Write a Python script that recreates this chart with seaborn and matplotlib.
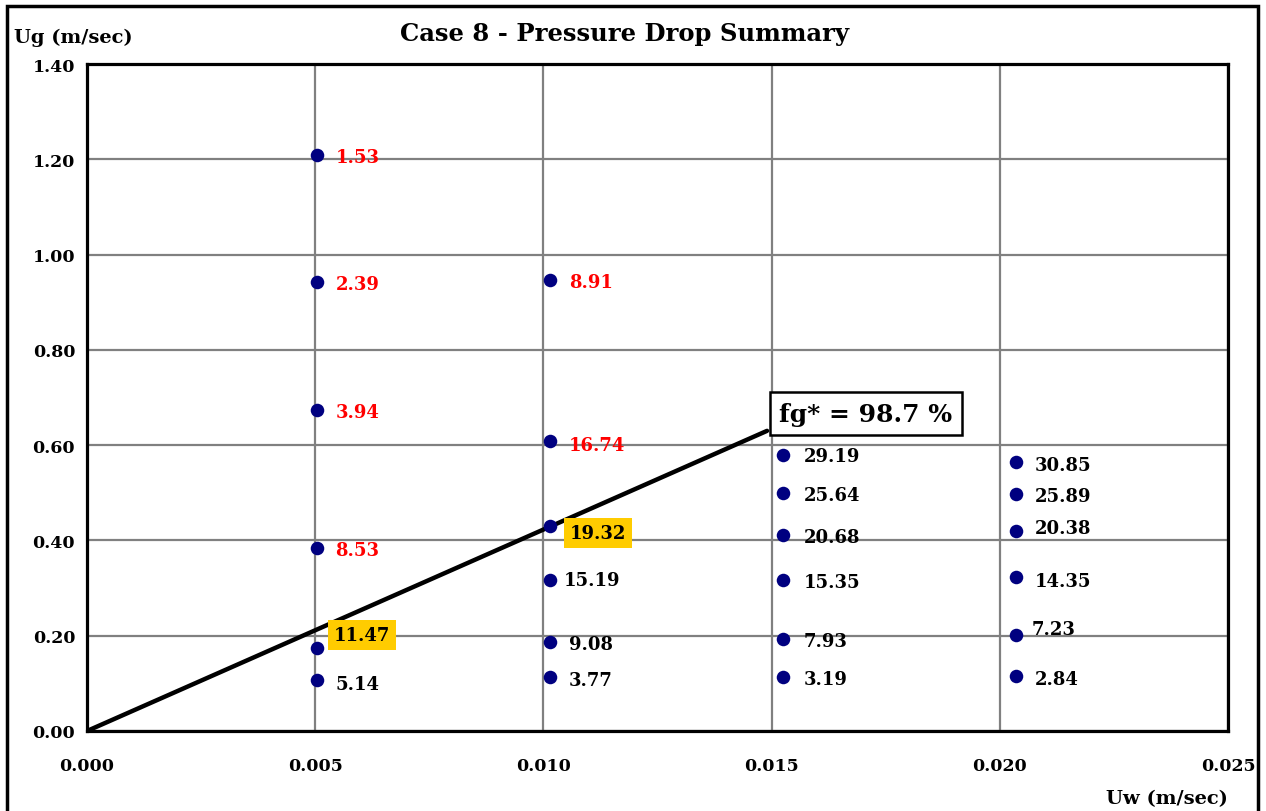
import matplotlib
matplotlib.use("Agg")
import matplotlib.pyplot as plt
import seaborn as sns
import pandas as pd
from matplotlib.patches import Rectangle

# ---- data ----
uw = [0.00505, 0.00505, 0.00505, 0.00505, 0.00505, 0.00505,
      0.01014, 0.01014, 0.01014, 0.01014, 0.01014, 0.01014,
      0.01526, 0.01526, 0.01526, 0.01526, 0.01526, 0.01526,
      0.02035, 0.02035, 0.02035, 0.02035, 0.02035, 0.02035]
ug = [1.209, 0.942, 0.674, 0.384, 0.174, 0.107,
      0.947, 0.608, 0.430, 0.317, 0.187, 0.113,
      0.579, 0.500, 0.411, 0.317, 0.193, 0.113,
      0.565, 0.497, 0.420, 0.323, 0.202, 0.115]
dp_labels = ["1.53", "2.39", "3.94", "8.53", "11.47", "5.14",
             "8.91", "16.74", "19.32", "15.19", "9.08", "3.77",
             "29.19", "25.64", "20.68", "15.35", "7.93", "3.19",
             "30.85", "25.89", "20.38", "14.35", "7.23", "2.84"]
label_kind = ["red", "red", "red", "red", "hl", "black",
              "red", "red", "hl", "black", "black", "black",
              "black", "black", "black", "black", "black", "black",
              "black", "black", "black", "black", "black", "black"]
fg_line_x = [0.0, 0.0149]
fg_line_y = [0.0, 0.630]
x_ticks = [0.000, 0.005, 0.010, 0.015, 0.020, 0.025]
y_ticks = [0.00, 0.20, 0.40, 0.60, 0.80, 1.00, 1.20, 1.40]
title = "Case 8 - Pressure Drop Summary"
fg_text = "fg* = 98.7 %"

# label offsets in pixels (dx, dy) relative to points (layout)
offsets = [(18, -2), (18, -2), (18, -2), (18, -2), (16, 13), (18, -4),
           (19, -2), (19, -4), (20, -7), (14, 0), (19, -2), (19, -3),
           (20, -1), (20, -2), (20, -2), (20, -2), (20, -2), (20, -2),
           (19, -3), (19, -2), (19, 3), (19, -4), (16, 6), (19, -3)]

sns.set_theme(style="white")
plt.rcParams["font.family"] = ["DejaVu Serif"]
plt.rcParams["font.weight"] = "bold"
plt.rcParams["text.color"] = "black"
plt.rcParams["xtick.color"] = "black"
plt.rcParams["ytick.color"] = "black"

fig = plt.figure(figsize=(12.66, 8.12), dpi=100)
ax = fig.add_axes([87 / 1266, 1 - 732 / 812, (1228 - 87) / 1266, (732 - 65) / 812])

# outer frame
fig.patches.append(Rectangle((7 / 1266, -0.05), (1258 - 7) / 1266, (806 + 40) / 812,
                             transform=fig.transFigure, fill=False, edgecolor="black",
                             linewidth=2.5, zorder=0))

ax.set_xlim(0, 0.025)
ax.set_ylim(0, 1.40)
ax.set_xticks(x_ticks)
ax.set_yticks(y_ticks)
ax.set_xticklabels([f"{v:.3f}" for v in x_ticks], fontsize=12.5, fontweight="bold")
ax.set_yticklabels([f"{v:.2f}" for v in y_ticks], fontsize=12.5, fontweight="bold")
ax.grid(True, color="#808080", linewidth=1.6)
ax.set_axisbelow(True)
for s in ax.spines.values():
    s.set_color("black")
    s.set_linewidth(2.3)
ax.tick_params(axis="both", which="both", direction="inout", length=9, width=2,
               color="black", labelcolor="black")
ax.tick_params(axis="x", pad=14)
ax.tick_params(axis="y", pad=4)

df = pd.DataFrame({"uw": uw, "ug": ug})
sns.lineplot(x=fg_line_x, y=fg_line_y, ax=ax, color="black", linewidth=3.2, zorder=3)
sns.scatterplot(data=df, x="uw", y="ug", ax=ax, color="#000080", s=95,
                edgecolor="#000080", linewidth=0, zorder=4, clip_on=False)
ax.set_xlabel("")
ax.set_ylabel("")

colors = {"red": "#ff0000", "black": "black", "hl": "black"}
for x, y, t, k, (dx, dy) in zip(uw, ug, dp_labels, label_kind, offsets):
    kw = dict(textcoords="offset pixels", xytext=(dx, dy), ha="left", va="center",
              fontsize=13, fontweight="bold", color=colors[k], zorder=5)
    if k == "hl":
        kw["bbox"] = dict(boxstyle="square,pad=0.33", facecolor="#ffcc00", edgecolor="none")
    ax.annotate(t, (x, y), **kw)

ax.annotate(fg_text, (fg_line_x[1], fg_line_y[1]), textcoords="offset pixels",
            xytext=(12, 17), ha="left", va="center", fontsize=18, fontweight="bold",
            color="black", zorder=6,
            bbox=dict(boxstyle="square,pad=0.38", facecolor="white", edgecolor="black",
                      linewidth=1.8))

fig.text(625 / 1266, 1 - 34 / 812, title, ha="center", va="center",
         fontsize=17.5, fontweight="bold", color="black")
fig.text(14 / 1266, 1 - 38 / 812, "Ug (m/sec)", ha="left", va="center",
         fontsize=14, fontweight="bold", color="black")
fig.text(1228 / 1266, 1 - 799 / 812, "Uw (m/sec)", ha="right", va="center",
         fontsize=14, fontweight="bold", color="black")

fig.savefig("out.png", dpi=100)
